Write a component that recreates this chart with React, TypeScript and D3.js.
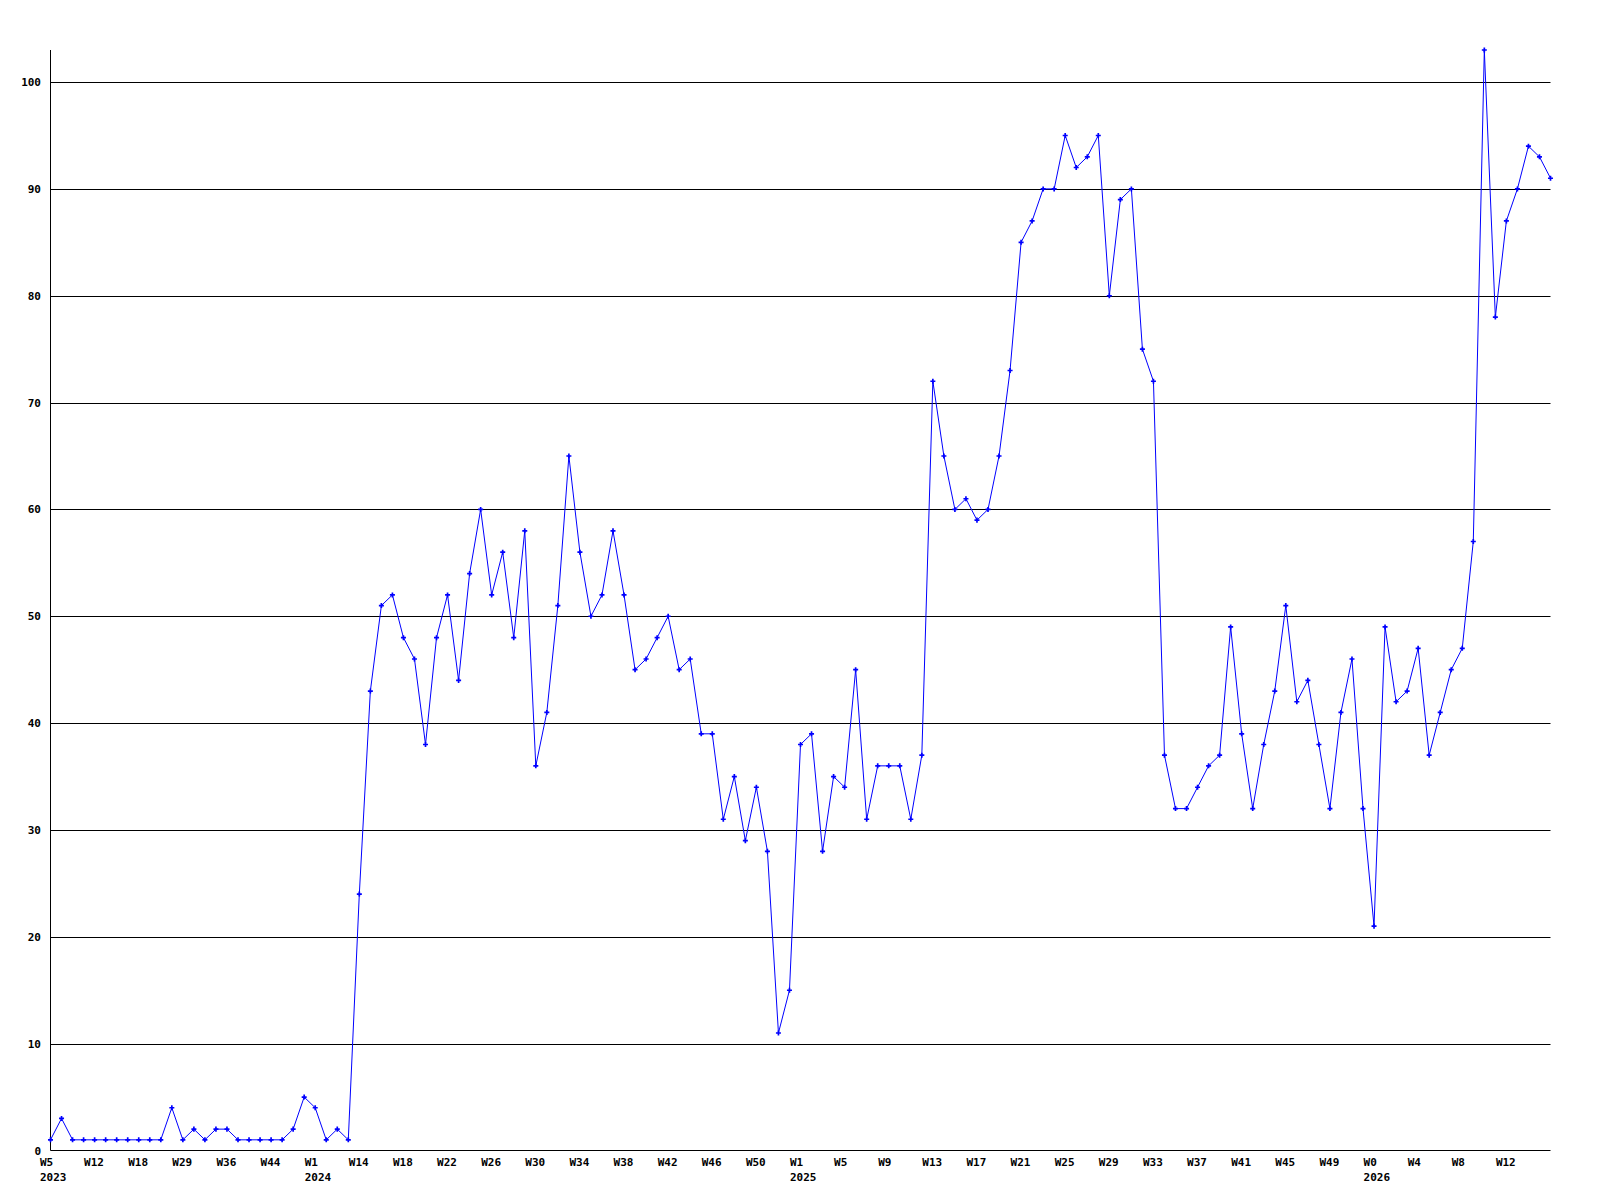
import React from "react";
import * as d3 from "d3";

const values: number[] = [
  1, 3, 1, 1, 1, 1, 1, 1, 1, 1,
  1, 4, 1, 2, 1, 2, 2, 1, 1, 1,
  1, 1, 2, 5, 4, 1, 2, 1, 24, 43,
  51, 52, 48, 46, 38, 48, 52, 44, 54, 60,
  52, 56, 48, 58, 36, 41, 51, 65, 56, 50,
  52, 58, 52, 45, 46, 48, 50, 45, 46, 39,
  39, 31, 35, 29, 34, 28, 11, 15, 38, 39,
  28, 35, 34, 45, 31, 36, 36, 36, 31, 37,
  72, 65, 60, 61, 59, 60, 65, 73, 85, 87,
  90, 90, 95, 92, 93, 95, 80, 89, 90, 75,
  72, 37, 32, 32, 34, 36, 37, 49, 39, 32,
  38, 43, 51, 42, 44, 38, 32, 41, 46, 32,
  21, 49, 42, 43, 47, 37, 41, 45, 47, 57,
  103, 78, 87, 90, 94, 93, 91,
];

const weekLabels: string[] = [
  "W5", "W12", "W18", "W29", "W36", "W44",
  "W1", "W14", "W18", "W22", "W26", "W30", "W34", "W38", "W42", "W46", "W50",
  "W1", "W5", "W9", "W13", "W17", "W21", "W25", "W29", "W33", "W37", "W41", "W45", "W49",
  "W0", "W4", "W8", "W12",
];
const labelStep = 4;

const yearLabels: { index: number; year: string }[] = [
  { index: 0, year: "2023" },
  { index: 24, year: "2024" },
  { index: 68, year: "2025" },
  { index: 120, year: "2026" },
];

const yTicks: number[] = [0, 10, 20, 30, 40, 50, 60, 70, 80, 90, 100];

export default function App() {
  const left = 50.5;
  const right = 1550.5;
  const top = 50;
  const bottom = 1150.5;

  const x = d3.scaleLinear().domain([0, values.length - 1]).range([left, right]);
  const y = d3.scaleLinear().domain([0, 103]).range([bottom, top]);

  const line = d3
    .line<number>()
    .x((_, i) => x(i))
    .y((d) => y(d));

  const marker = d3.symbol().type(d3.symbolCross).size(14)() as string;

  const font = "'DejaVu Sans Mono', monospace";

  return (
    <div style={{ position: "absolute", left: 0, top: 0 }}>
      <svg width={1600} height={1200} style={{ display: "block", background: "#fff" }}>
        {/* grid lines */}
        {yTicks.filter((t) => t > 0).map((t) => (
          <line key={"g" + t} x1={left} x2={right} y1={Math.round(y(t)) + 0.5} y2={Math.round(y(t)) + 0.5} stroke="#000" strokeWidth={1} />
        ))}
        {/* axes */}
        <line x1={left} x2={left} y1={top} y2={bottom} stroke="#000" strokeWidth={1} />
        <line x1={left} x2={right} y1={bottom} y2={bottom} stroke="#000" strokeWidth={1} />
        {/* y labels */}
        {yTicks.map((t) => (
          <text key={"yl" + t} x={41} y={y(t) + 4} textAnchor="end" fontFamily={font} fontWeight="bold" fontSize={11} fill="#000">
            {t}
          </text>
        ))}
        {/* x labels */}
        {weekLabels.map((w, k) => (
          <text key={"xl" + k} x={x(k * labelStep) - 10.5} y={1166} fontFamily={font} fontWeight="bold" fontSize={11} fill="#000">
            {w}
          </text>
        ))}
        {yearLabels.map((yl) => (
          <text key={"yr" + yl.year} x={x(yl.index) - 10.5} y={1181} fontFamily={font} fontWeight="bold" fontSize={11} fill="#000">
            {yl.year}
          </text>
        ))}
        {/* series */}
        <path d={line(values) || ""} fill="none" stroke="#0000ff" strokeWidth={1} />
        {values.map((v, i) => (
          <path key={"m" + i} d={marker} transform={`translate(${x(i)},${y(v)})`} fill="#0000ff" />
        ))}
      </svg>
    </div>
  );
}
